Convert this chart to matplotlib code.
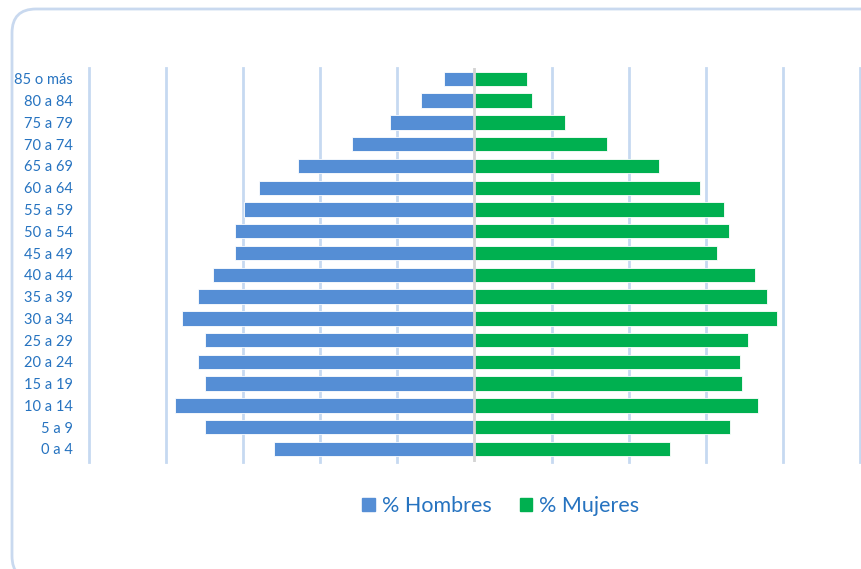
import matplotlib.pyplot as plt
from matplotlib.patches import FancyBboxPatch, Patch

grupos = ["0 a 4", "5 a 9", "10 a 14", "15 a 19", "20 a 24", "25 a 29", "30 a 34",
          "35 a 39", "40 a 44", "45 a 49", "50 a 54", "55 a 59", "60 a 64",
          "65 a 69", "70 a 74", "75 a 79", "80 a 84", "85 o más"]
hombres = [2.60, 3.49, 3.89, 3.49, 3.59, 3.49, 3.79, 3.59, 3.39, 3.10, 3.10, 2.99,
           2.79, 2.29, 1.59, 1.10, 0.70, 0.40]
mujeres = [2.53, 3.32, 3.68, 3.47, 3.45, 3.55, 3.92, 3.79, 3.64, 3.14, 3.30, 3.24,
           2.92, 2.39, 1.72, 1.17, 0.74, 0.68]

azul = "#558ed5"
verde = "#00b050"
texto = "#2673c0"
plt.rcParams['font.family'] = ['Lato', 'DejaVu Sans']

W, H = 862, 569
fig = plt.figure(figsize=(W / 100, H / 100), dpi=100)

# marco redondeado (en pixeles)
marco = FancyBboxPatch((12, H - 580), 886 - 12, 580 - 9,
                       boxstyle="round,pad=0,rounding_size=24",
                       transform=None, facecolor="none",
                       edgecolor="#c9d9ef", linewidth=2, zorder=-1)
fig.patches.append(marco)

ax = fig.add_axes([89 / W, 1 - 462 / H, (860 - 89) / W, (462 - 68) / H])
ax.set_facecolor("none")

y = range(len(grupos))
ax.barh(y, [-v for v in hombres], height=0.66, color=azul, edgecolor="white",
        linewidth=0.6, zorder=3)
ax.barh(y, mujeres, height=0.66, color=verde, edgecolor="white",
        linewidth=0.6, zorder=3)

for x in [-5, -4, -3, -2, -1, 1, 2, 3, 4, 5]:
    ax.axvline(x, color="#c6d9f1", linewidth=2, zorder=1, clip_on=False)
ax.axvline(0, color="#d4d4d4", linewidth=2, zorder=4)

ax.set_xlim(-5, 5)
ax.set_ylim(-0.6, 17.5)
ax.set_xticks([])
ax.set_yticks(list(y))
ax.set_yticklabels(grupos, color=texto, fontsize=10.5)
ax.tick_params(axis="y", length=0, pad=11.5)
for s in ax.spines.values():
    s.set_visible(False)

handles = [Patch(color=azul, label="% Hombres"), Patch(color=verde, label="% Mujeres")]
fig.legend(handles=handles, loc="center", bbox_to_anchor=(501 / W, 1 - 506 / H),
           ncol=2, frameon=False, fontsize=15.5, labelcolor=texto,
           handlelength=0.56, handleheight=0.56, handletextpad=0.35, columnspacing=1.3)

fig.savefig("out.png", dpi=100)
